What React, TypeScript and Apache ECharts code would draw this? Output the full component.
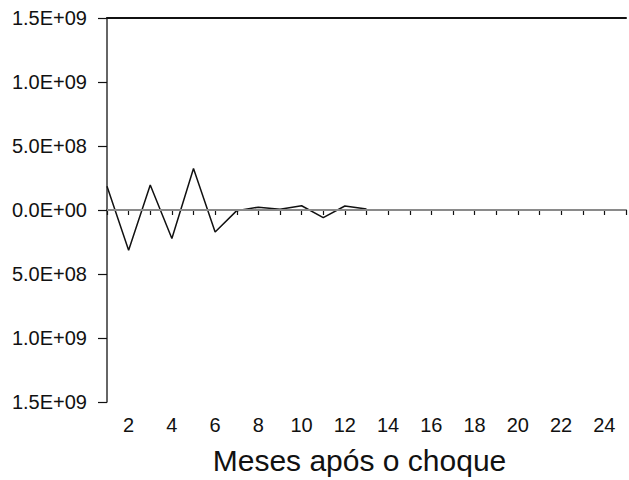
import React, { useEffect, useRef } from "react";
import * as echarts from "echarts";

const months = ["1","2","3","4","5","6","7","8","9","10","11","12","13","14","15","16","17","18","19","20","21","22","23","24","25"];
const response = [1.85e8, -3.14e8, 1.96e8, -2.22e8, 3.24e8, -1.72e8, -5e6, 2.2e7, 5e6, 3.3e7, -5.9e7, 3.1e7, 8e6, null, null, null, null, null, null, null, null, null, null, null, null];
const yTickLabels = ["1.5E+09", "1.0E+09", "5.0E+08", "0.0E+00", "5.0E+08", "1.0E+09", "1.5E+09"];
const yMin = -1.5e9;
const yMax = 1.5e9;
const yStep = 5e8;
const xTitle = "Meses após o choque";

export default function App() {
  const ref = useRef<HTMLDivElement>(null);
  useEffect(() => {
    if (!ref.current) return;
    const chart = echarts.init(ref.current, null, { renderer: "svg" });
    const font = "'Liberation Sans', Arial, Helvetica, sans-serif";
    chart.setOption({
      animation: false,
      backgroundColor: "#ffffff",
      grid: { left: 107, right: 3, top: 18, bottom: 70, containLabel: false },
      xAxis: [
        {
          type: "category",
          data: months,
          boundaryGap: false,
          position: "bottom",
          axisLine: { show: true, lineStyle: { color: "#111", width: 1.5 } },
          axisTick: { show: true, interval: 0, length: 5, lineStyle: { color: "#111", width: 1.2 } },
          axisLabel: {
            interval: (i: number) => i % 2 === 1,
            color: "#111",
            fontSize: 20,
            fontFamily: font,
            margin: 13,
          },
          splitLine: { show: false },
          name: xTitle,
          nameLocation: "middle",
          nameGap: 43,
          nameTextStyle: { fontSize: 30, fontFamily: font, color: "#111", padding: [0, 14, 0, 0] },
        },
        {
          type: "category",
          data: months,
          boundaryGap: false,
          position: "top",
          axisLine: { show: true, lineStyle: { color: "#111", width: 2 } },
          axisTick: { show: false },
          axisLabel: { show: false },
          splitLine: { show: false },
        },
      ],
      yAxis: {
        type: "value",
        min: yMin,
        max: yMax,
        interval: yStep,
        axisLine: { show: true, onZero: false, lineStyle: { color: "#333", width: 1.5 } },
        axisTick: { show: true, length: 9, lineStyle: { color: "#111", width: 1.2 } },
        axisLabel: {
          color: "#111",
          fontSize: 20,
          fontFamily: font,
          margin: 20,
          formatter: (v: number) => yTickLabels[Math.round((v - yMin) / yStep)] ?? "",
        },
        splitLine: { show: false },
      },
      series: [
        {
          type: "line",
          data: response,
          xAxisIndex: 0,
          symbol: "none",
          connectNulls: false,
          lineStyle: { color: "#111", width: 1.5 },
          markLine: {
            silent: true,
            symbol: "none",
            label: { show: false },
            lineStyle: { color: "#8a8a8a", width: 2, type: "solid" },
            data: [{ yAxis: 0 }],
          },
          z: 3,
        },
      ],
    });
    return () => chart.dispose();
  }, []);
  return <div ref={ref} style={{ width: 629, height: 480, position: "absolute", left: 0, top: 0 }} />;
}
